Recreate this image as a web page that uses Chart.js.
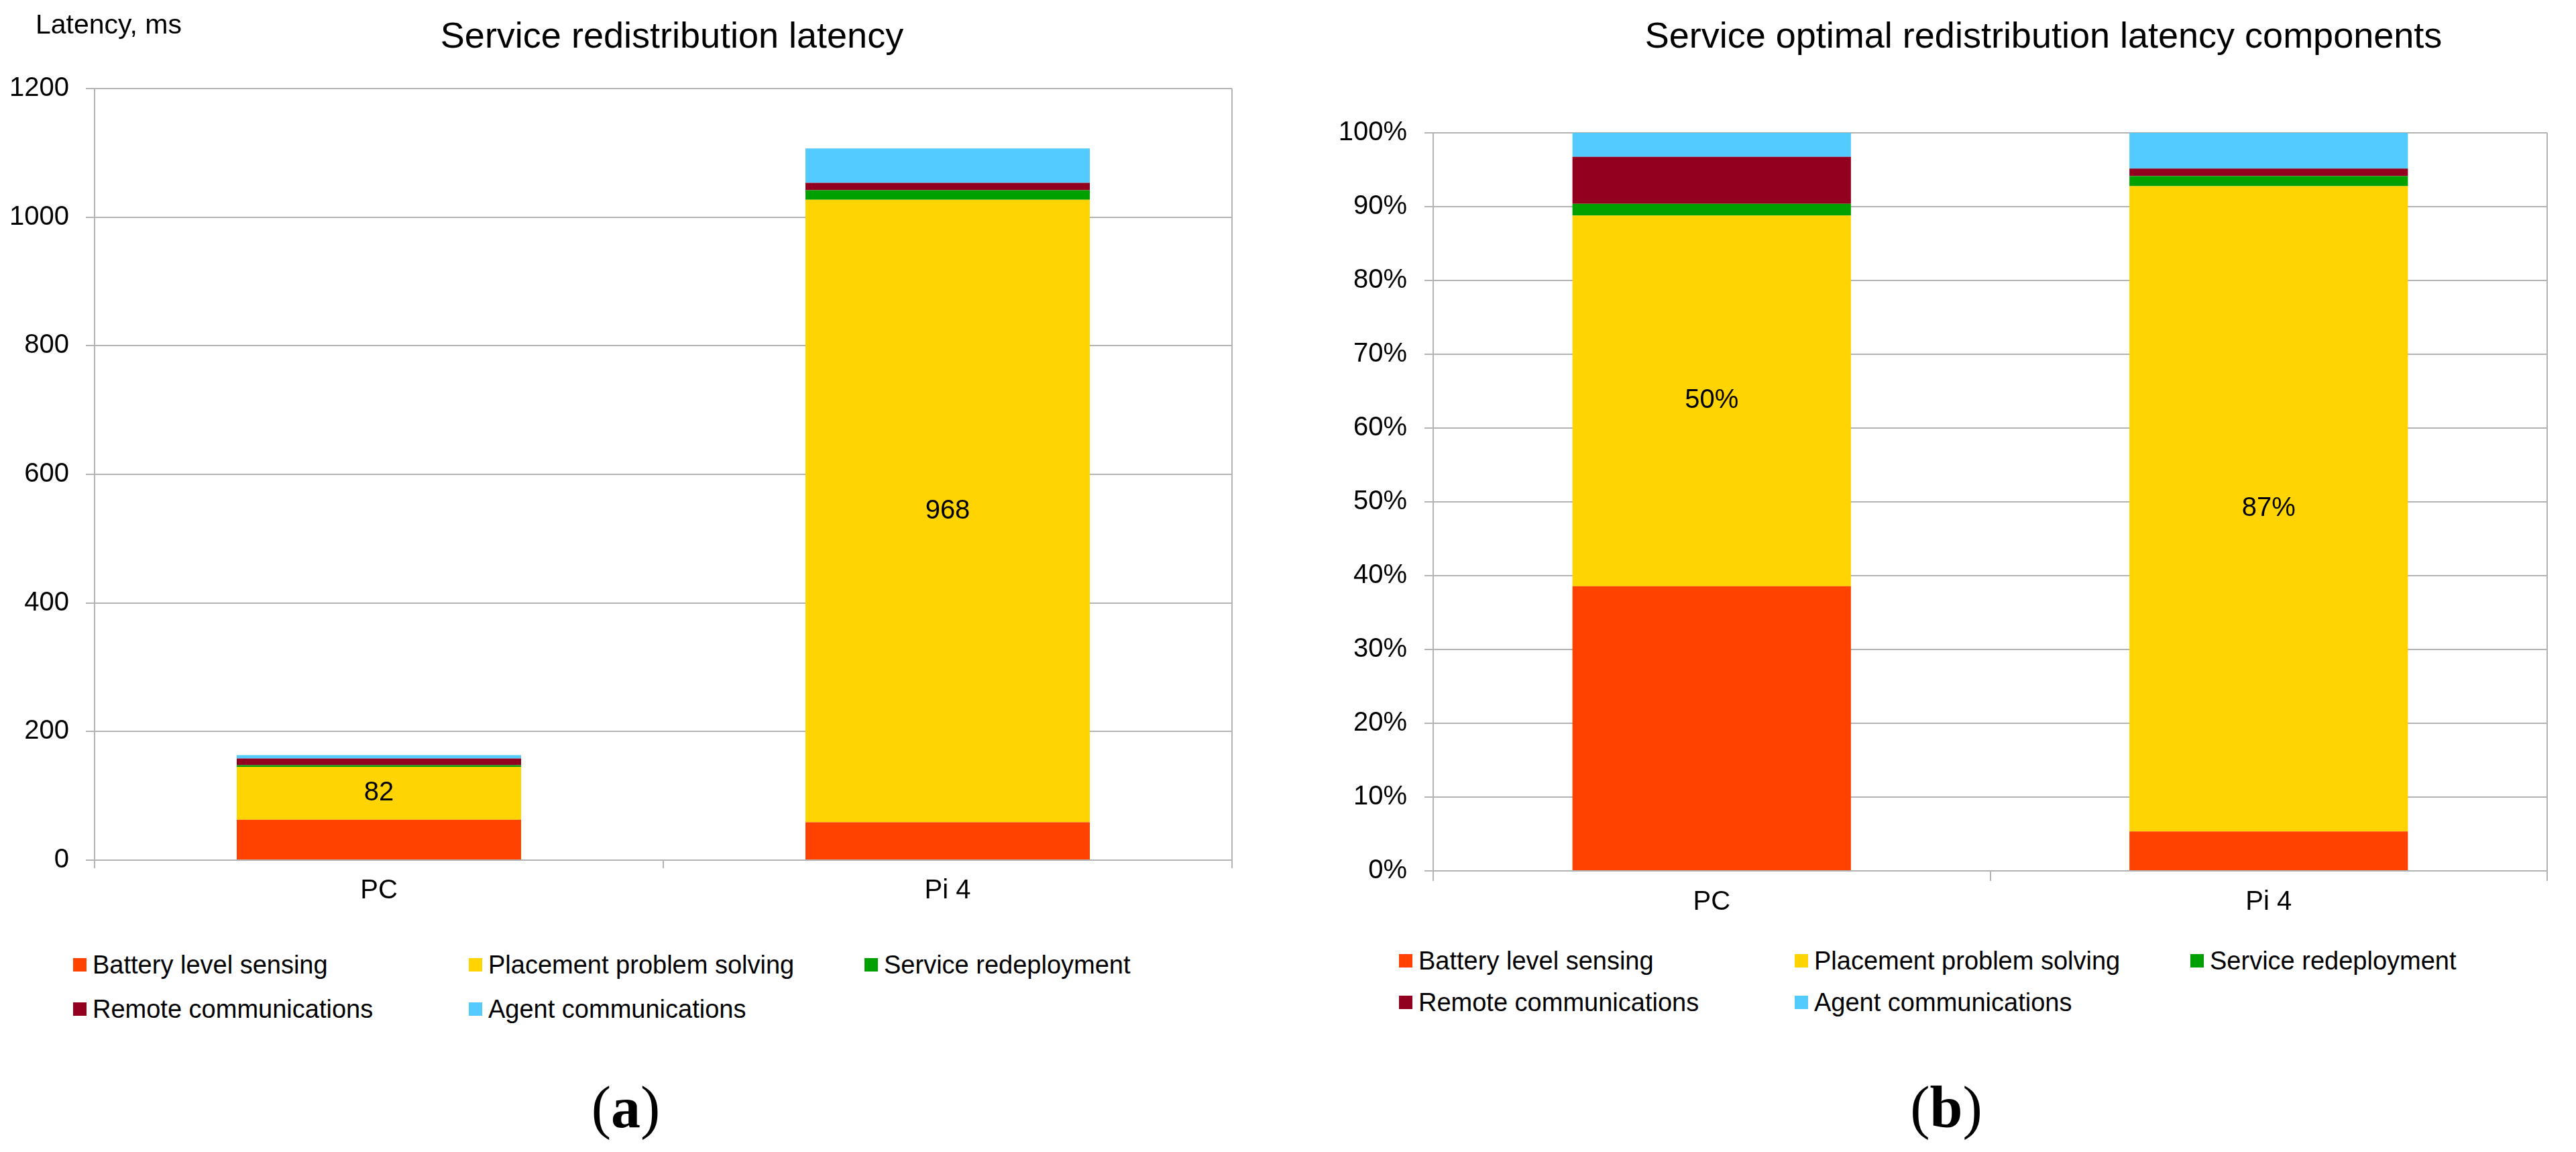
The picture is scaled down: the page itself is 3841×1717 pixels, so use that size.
<!DOCTYPE html>
<html><head><meta charset="utf-8">
<script src="https://cdn.jsdelivr.net/npm/chart.js@4"></script>
<style>
html,body{margin:0;padding:0;background:#fff;}
#wrap{position:relative;width:3841px;height:1717px;overflow:hidden;font-family:"Liberation Sans",Arial,sans-serif;color:#000;background:#fff;}
canvas{position:absolute;top:0;}
.t{position:absolute;white-space:nowrap;}
.title{font-size:54px;line-height:54px;height:54px;width:2000px;text-align:center;top:25px;}
.cap{font-family:"Liberation Serif","Times New Roman",serif;font-size:88px;line-height:88px;width:200px;text-align:center;top:1607px;}
.cap b{font-weight:bold;}
.leg{position:absolute;height:48px;display:flex;align-items:center;white-space:nowrap;font-size:38px;}
.leg span.m{display:inline-block;width:20px;height:20px;margin-right:9px;}
</style></head><body>
<div id="wrap">
<canvas id="cA" width="1920" height="1400" style="left:0px"></canvas>
<canvas id="cB" width="1921" height="1400" style="left:1920px"></canvas>
<div class="t" style="left:53px;top:16px;font-size:41px;line-height:41px;">Latency, ms</div>
<div class="t title" style="left:2px;">Service redistribution latency</div>
<div class="t title" style="left:2047px;">Service optimal redistribution latency components</div>
<div class="t cap" style="left:833px;">(<b>a</b>)</div>
<div class="t cap" style="left:2802px;">(<b>b</b>)</div>
</div>
<script>
// ---- data ----
const categories = ['PC', 'Pi 4'];
const seriesNames = ['Battery level sensing', 'Placement problem solving', 'Service redeployment', 'Remote communications', 'Agent communications'];
const batterySensing      = [63, 59];
const placementSolving    = [82, 968];
const serviceRedeployment = [2.6, 15];
const remoteComms         = [10.4, 11.5];
const agentComms          = [5.3, 53.5];
const latencyTicksMax = 1200;
const latencyTickStep = 200;
const percentTickStep = 10;

// ---- styles ----
const seriesColors = ['#FF4200', '#FFD400', '#00A000', '#93001F', '#53CBFF'];
const GRID = '#b3b3b3';
const FONT = '"Liberation Sans", Arial, sans-serif';
Chart.defaults.font.family = FONT;
Chart.defaults.color = '#000';

const seriesValues = [batterySensing, placementSolving, serviceRedeployment, remoteComms, agentComms];
const totals = categories.map((c, i) => seriesValues.reduce((s, arr) => s + arr[i], 0));
const seriesShares = seriesValues.map(arr => arr.map((v, i) => v / totals[i] * 100));

function makeDatasets(valuesList) {
  return valuesList.map((vals, k) => ({
    label: seriesNames[k], data: vals, backgroundColor: seriesColors[k],
    borderWidth: 0, barPercentage: 0.5, categoryPercentage: 1.0
  }));
}

function valueLabelPlugin(idx, fmt) {
  return {
    id: 'valueLabels' + idx,
    afterDatasetsDraw(chart) {
      const meta = chart.getDatasetMeta(idx);
      const ctx = chart.ctx;
      ctx.save();
      ctx.font = '40px ' + FONT;
      ctx.fillStyle = '#000';
      ctx.textAlign = 'center';
      ctx.textBaseline = 'middle';
      meta.data.forEach((el, i) => {
        const p = el.getProps(['x', 'y', 'base'], true);
        ctx.fillText(fmt(chart.data.datasets[idx].data[i]), p.x, (p.y + p.base) / 2);
      });
      ctx.restore();
    }
  };
}
const rightBorder = {
  id: 'rightBorder',
  beforeDatasetsDraw(chart) {
    const a = chart.chartArea, ctx = chart.ctx;
    ctx.save(); ctx.strokeStyle = GRID; ctx.lineWidth = 2;
    ctx.beginPath(); ctx.moveTo(a.right, a.top); ctx.lineTo(a.right, a.bottom); ctx.stroke();
    ctx.restore();
  }
};

function makeOptions(cfg) {
  return {
    responsive: false, animation: false, devicePixelRatio: 1,
    layout: { padding: cfg.padding },
    plugins: { legend: { display: false }, tooltip: { enabled: false }, title: { display: false } },
    scales: {
      x: {
        stacked: true, offset: true,
        grid: { offset: true, drawOnChartArea: false, color: GRID, lineWidth: 2, tickLength: cfg.xTick },
        border: { color: GRID, width: 2 },
        ticks: { font: { size: 40 }, padding: cfg.xPad, color: '#000' },
        afterFit(s) { s.height = 70; }
      },
      y: {
        stacked: true, min: 0, max: cfg.max,
        grid: { color: GRID, lineWidth: 2, tickLength: 13 },
        border: { color: GRID, width: 2 },
        ticks: { stepSize: cfg.step, padding: cfg.yPad, font: { size: 40 }, color: '#000', callback: cfg.fmt },
        afterFit(s) { s.width = cfg.yWidth; }
      }
    }
  };
}

new Chart(document.getElementById('cA'), {
  type: 'bar',
  data: { labels: categories, datasets: makeDatasets(seriesValues) },
  options: makeOptions({ padding: { top: 132, right: 83, bottom: 48, left: 0 }, xTick: 12, xPad: 10, max: latencyTicksMax, step: latencyTickStep, yPad: 25, yWidth: 141, fmt: v => String(v) }),
  plugins: [rightBorder, valueLabelPlugin(1, v => String(Math.round(v)))]
});

new Chart(document.getElementById('cB'), {
  type: 'bar',
  data: { labels: categories, datasets: makeDatasets(seriesShares) },
  options: makeOptions({ padding: { top: 198, right: 43, bottom: 32, left: 0 }, xTick: 15, xPad: 8, max: 100, step: percentTickStep, yPad: 26, yWidth: 217, fmt: v => v + '%' }),
  plugins: [rightBorder, valueLabelPlugin(1, v => Math.round(v) + '%')]
});

// ---- legends (HTML) ----
const wrap = document.getElementById('wrap');
function buildLegend(cols, rows) {
  const layout = [[0, 0], [1, 0], [2, 0], [0, 1], [1, 1]];
  seriesNames.forEach((name, k) => {
    const [c, r] = layout[k];
    const d = document.createElement('div');
    d.className = 'leg';
    d.style.left = cols[c] + 'px';
    d.style.top = (rows[r] - 24) + 'px';
    const m = document.createElement('span');
    m.className = 'm'; m.style.background = seriesColors[k];
    d.appendChild(m);
    d.appendChild(document.createTextNode(name));
    wrap.appendChild(d);
  });
}
buildLegend([109, 699, 1289], [1438, 1504]);
buildLegend([2086, 2676, 3266], [1432, 1494]);
</script>
</body></html>
